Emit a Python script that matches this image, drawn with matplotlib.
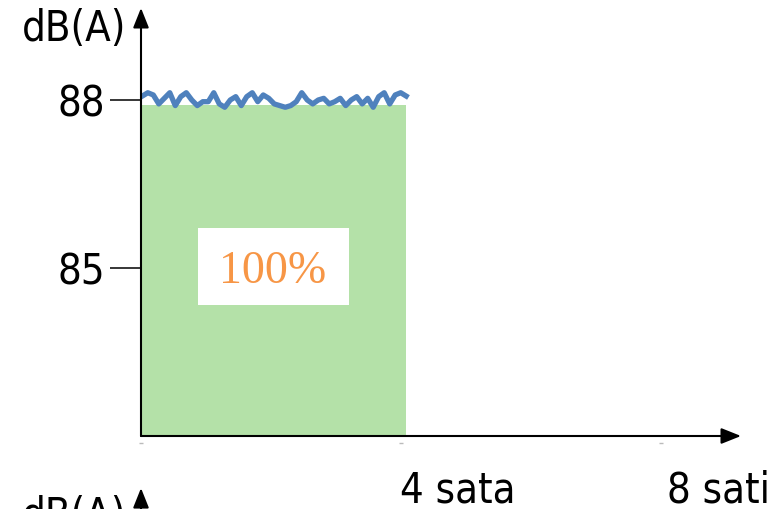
"""Noise exposure sketch: 88 dB(A) for 4 hours"""

import matplotlib.pyplot as plt
import numpy as np
from matplotlib.patches import Rectangle

# measured level (dB(A)) over the first 4 hours
level = [88.07, 88.13, 88.09, 87.93, 88.03, 88.13, 87.90, 88.06, 88.13, 88.00,
         87.90, 87.97, 87.97, 88.13, 87.93, 87.87, 88.00, 88.06, 87.90, 88.06,
         88.13, 87.97, 88.09, 88.03, 87.93, 87.90, 87.87, 87.90, 87.97, 88.13,
         88.00, 87.93, 88.00, 88.03, 87.93, 87.97, 88.03, 87.90, 88.00, 88.06,
         87.93, 88.03, 87.87, 88.06, 88.13, 87.93, 88.09, 88.13, 88.07]
hours = np.linspace(0.02, 4.08, len(level))

exposure_hours = 4.07
exposure_level = 87.91
dose_label = '100%'

y_ticks = [85, 88]
x_marks = [0, 4, 8]
x_labels = ['4 sata', '8 sati']
x_label_pos = [3.985, 8.09]

plt.rcParams['font.family'] = 'DejaVu Sans'
plt.rcParams['font.stretch'] = 'condensed'

fig = plt.figure(figsize=(7.8, 5.09), dpi=100)
ax = fig.add_axes([141 / 780, 73 / 509, 600 / 780, 428 / 509])
ax.set_xlim(0, 600 / 65)
ax.set_ylim(82, 82 + 428 / 56)

# green exposure area and the measured level
ax.add_patch(Rectangle((0, 82), exposure_hours, exposure_level - 82,
                       color='#b4e1a8', lw=0, zorder=1))
ax.plot(hours, level, color='#4f81bd', lw=3.8, zorder=3, solid_joinstyle='round')

# white label box with the dose
ax.add_patch(Rectangle((0.877, 84.34), 2.32, 1.375, color='white', lw=0, zorder=2))
ax.text(2.03, 84.93, dose_label, color='#f79646', fontsize=33,
        family='Liberation Serif', fontstretch='normal',
        ha='center', va='center', zorder=4)

# axes as arrows
for s in ax.spines.values():
    s.set_visible(False)
arrow = dict(arrowstyle='-|>,head_length=0.5,head_width=0.2', color='black',
             lw=1.5, mutation_scale=24, shrinkA=0, shrinkB=0)
ax.annotate('', xy=(0, 1), xytext=(0, 0), xycoords='axes fraction', arrowprops=arrow)
ax.annotate('', xy=(1, 0), xytext=(0, 0), xycoords='axes fraction', arrowprops=arrow)

ax.set_yticks(y_ticks)
ax.set_yticklabels([str(t) for t in y_ticks])
ax.tick_params(axis='y', length=22, width=1.1, pad=4, labelsize=30)
ax.set_xticks([])

# faint marks under the x axis
ax.plot(x_marks, [81.875] * len(x_marks), '_', color='#bbbbbb', ms=3, clip_on=False)

for pos, lab in zip(x_label_pos, x_labels):
    ax.text(pos, 81.41, lab, fontsize=30, ha='left', va='top', clip_on=False)

ax.text(-0.23, 89.27, 'dB(A)', fontsize=30, ha='right', va='center', clip_on=False)

# start of the next chart, cut off at the bottom (as in the original slide)
ax.text(-0.23, 80.95, 'dB(A)', fontsize=30, ha='right', va='top', clip_on=False)
ax.annotate('', xy=(0, 81.07), xytext=(0, 80.2), xycoords='data',
            arrowprops=arrow, annotation_clip=False)

fig.savefig('out.png', dpi=100)
